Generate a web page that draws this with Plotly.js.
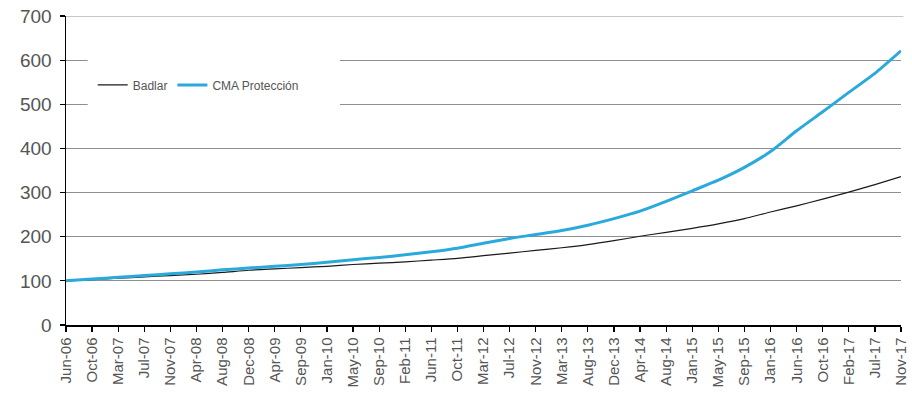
<!DOCTYPE html>
<html>
<head>
<meta charset="utf-8">
<script src="https://cdn.plot.ly/plotly-3.0.1.min.js"></script>
<style>html,body{margin:0;padding:0;background:#fff;}#chart{width:912px;height:400px;}</style>
</head>
<body>
<div id="chart"></div>
<script>
const dates = ["Jun-06","Oct-06","Mar-07","Jul-07","Nov-07","Apr-08","Aug-08","Dec-08","Apr-09","Sep-09","Jan-10","May-10","Sep-10","Feb-11","Jun-11","Oct-11","Mar-12","Jul-12","Nov-12","Mar-13","Aug-13","Dec-13","Apr-14","Aug-14","Jan-15","May-15","Sep-15","Jan-16","Jun-16","Oct-16","Feb-17","Jul-17","Nov-17"];
const badlar = [100,103,106,109,112,115,119,124,127,130,133,137,140,143,147,151,157,163,169,175,182,191,201,210,219,229,241,256,270,285,301,318,336];
const cma = [100,104,108,112,116,120,125,129,133,137,142,148,153,159,166,174,185,196,205,214,226,241,258,280,304,328,357,393,440,483,527,570,621];
const seriesNames = ["Badlar","CMA Protección"];

const font = "Liberation Sans, Arial, sans-serif";
const traces = [
  {x: dates, y: badlar, name: seriesNames[0], type: "scatter", mode: "lines",
   line: {color: "#1a1a1a", width: 1.2, shape: "spline", smoothing: 0.6}},
  {x: dates, y: cma, name: seriesNames[1], type: "scatter", mode: "lines",
   line: {color: "#2aaadc", width: 3, shape: "spline", smoothing: 0.6}}
];
const layout = {
  width: 912, height: 400,
  margin: {l: 66, r: 11, t: 16, b: 75},
  paper_bgcolor: "#fff", plot_bgcolor: "#fff",
  font: {family: font, color: "#555"},
  showlegend: true,
  legend: {orientation: "h", x: 0.032, y: 0.777, xanchor: "left", yanchor: "middle",
           bgcolor: "rgba(255,255,255,0)", font: {size: 12, color: "#555", family: font},
           itemwidth: 30},
  xaxis: {type: "category", range: [0, 32], showgrid: false, zeroline: false,
          showline: true, linecolor: "#000", linewidth: 1.5,
          ticks: "outside", ticklen: 5, tickcolor: "#000", tickwidth: 1.2,
          tickangle: -90, tickfont: {size: 15, color: "#555", family: font}},
  yaxis: {range: [0, 700], dtick: 100, tick0: 0, showgrid: true, gridcolor: "#8f8f8f", gridwidth: 1,
          zeroline: false, showline: true, linecolor: "#000", linewidth: 1.5,
          ticks: "outside", ticklen: 5, tickcolor: "#000", tickwidth: 1.2,
          ticklabelstandoff: 4,
          tickfont: {size: 19, color: "#555", family: font}},
  shapes: [
    {type: "line", xref: "paper", yref: "y", x0: 0, x1: 1.003, y0: 700, y1: 700, layer: "below",
     line: {color: "#8f8f8f", width: 1}},
    {type: "rect", xref: "paper", yref: "paper", x0: 0.026, x1: 0.328, y0: 0.70, y1: 0.875,
     fillcolor: "#fff", line: {width: 0}, layer: "above"}
  ]
};
Plotly.newPlot("chart", traces, layout, {displayModeBar: false, staticPlot: true});
</script>
</body>
</html>
